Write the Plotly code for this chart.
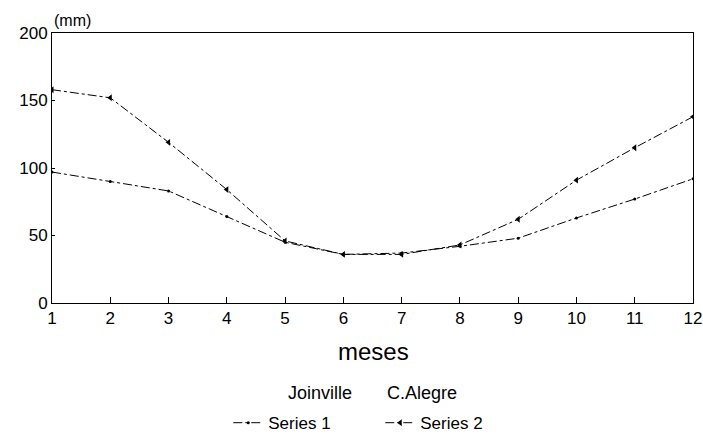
import plotly.graph_objects as go

months = [1, 2, 3, 4, 5, 6, 7, 8, 9, 10, 11, 12]
series1 = [97, 90, 83, 64, 45, 36, 37, 42, 48, 63, 77, 92]   # Joinville
series2 = [158, 152, 119, 84, 46, 36, 36, 43, 62, 91, 115, 138]  # C.Alegre
y_ticks = [0, 50, 100, 150, 200]
x_ticks = months

FONT = "Liberation Sans, Arial, sans-serif"

fig = go.Figure()
fig.add_trace(go.Scatter(
    x=months, y=series1, name="Series 1", mode="lines+markers",
    line=dict(color="black", width=1, dash="dashdot"),
    marker=dict(symbol="circle", size=3, color="black"),
))
fig.add_trace(go.Scatter(
    x=months, y=series2, name="Series 2", mode="lines+markers",
    line=dict(color="black", width=1, dash="dashdot"),
    marker=dict(symbol="triangle-left", size=6, color="black"),
))

fig.update_layout(
    width=703, height=439,
    margin=dict(l=52, r=10, t=33, b=136, autoexpand=False),
    paper_bgcolor="white", plot_bgcolor="white",
    font=dict(family=FONT, color="black", size=17),
    showlegend=True,
    legend=dict(orientation="h", x=0.275, xanchor="left", y=-0.445, yanchor="middle",
                font=dict(size=17), itemwidth=30, entrywidth=107,
                bgcolor="rgba(0,0,0,0)"),
    xaxis=dict(range=[1, 12], tickvals=x_ticks, ticktext=[str(m) for m in x_ticks],
               showgrid=False, zeroline=False, showline=True, linecolor="black",
               linewidth=1, mirror=True, ticks="inside", ticklen=6, tickcolor="black",
               tickfont=dict(size=17), automargin=False),
    yaxis=dict(range=[0, 200], tickvals=y_ticks, ticktext=[str(v) for v in y_ticks],
               showgrid=False, zeroline=False, showline=True, linecolor="black",
               linewidth=1, mirror=True, ticks="inside", ticklen=3, tickcolor="black",
               tickfont=dict(size=17), automargin=False),
    annotations=[
        dict(text="(mm)", x=0, xref="paper", xanchor="left", y=1.048, yref="paper",
             yanchor="middle", showarrow=False, font=dict(size=16)),
        dict(text="meses", x=0.5008, xref="paper", xanchor="center", y=-0.181, yref="paper",
             yanchor="middle", showarrow=False, font=dict(size=24)),
        dict(text="Joinville", x=0.365, xref="paper", xanchor="left", y=-0.333,
             yref="paper", yanchor="middle", showarrow=False, font=dict(size=18)),
        dict(text="C.Alegre", x=0.5195, xref="paper", xanchor="left", y=-0.333,
             yref="paper", yanchor="middle", showarrow=False, font=dict(size=18)),
    ],
)

fig.write_html("out.html", config={"displayModeBar": False},
               post_script="document.body.style.margin='0';document.body.style.overflow='hidden';")
